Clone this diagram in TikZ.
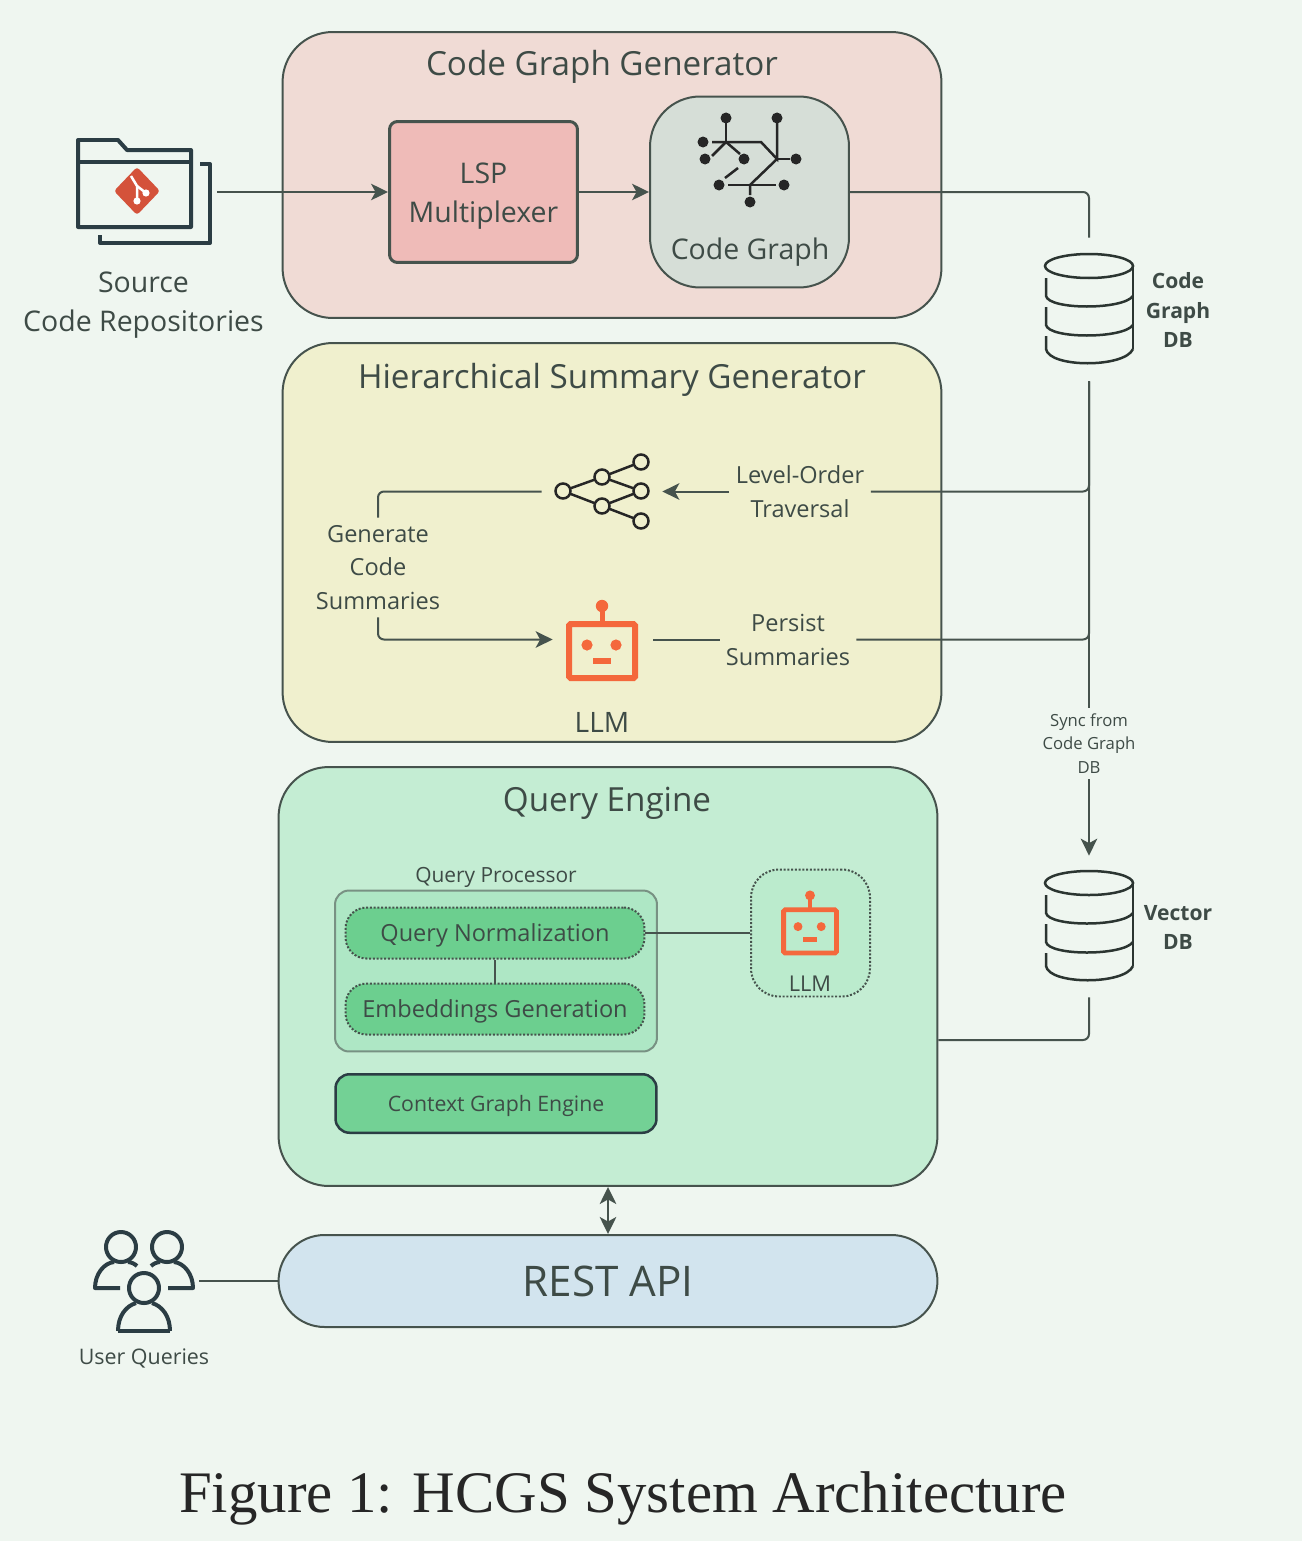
\documentclass[tikz,border=0pt]{standalone}
\usepackage{fontspec}
\setmainfont{Open Sans}
\newfontfamily\capfont{Liberation Serif}
\usetikzlibrary{arrows.meta}
\definecolor{bgcol}{HTML}{EFF6F0}
\definecolor{inkcol}{HTML}{3E4B46}
\definecolor{linecol}{HTML}{46534D}
\definecolor{iconcol}{HTML}{2B3D44}
\definecolor{botcol}{HTML}{F4683C}
\definecolor{gitcol}{HTML}{D4523A}
\definecolor{cggcol}{HTML}{F0DBD5}
\definecolor{lspcol}{HTML}{EFBBB8}
\definecolor{cgcol}{HTML}{D6DED7}
\definecolor{hsgcol}{HTML}{F0F0CE}
\definecolor{qecol}{HTML}{C4EDD3}
\definecolor{qpcol}{HTML}{AEE7C5}
\definecolor{stagecol}{HTML}{6CCF8F}
\definecolor{restcol}{HTML}{D2E4EE}
\tikzset{
  panel/.style={draw=linecol, line width=0.04cm, rounded corners=1cm, inner sep=0},
  titletext/.style={text=inkcol, font=\fontsize{18.9}{22}\selectfont},
  bodytext/.style={text=inkcol, align=center, font=\fontsize{16.2}{21.8}\selectfont},
  flowtext/.style={text=inkcol, align=center, inner sep=0, font=\fontsize{13.4}{19.2}\selectfont},
  dbtext/.style={text=inkcol, align=center, font=\bfseries\fontsize{12}{17}\selectfont},
  smalltext/.style={text=inkcol, align=center, font=\fontsize{9.5}{13.6}\selectfont},
  hole/.style={inner sep=0},
  wire/.style={draw=linecol, line width=0.04cm, rounded corners=0.12cm},
  icon/.style={draw=iconcol, line width=0.08cm, line join=round},
  glyph/.style={draw=black!85, line width=0.05cm},
  stage/.style={draw=linecol, densely dotted, line width=0.04cm, fill=stagecol, rounded corners=0.42cm,
    minimum width=5.98cm, minimum height=1.02cm, inner sep=0},
}
% robot head, centre of the face at (#1,#2), #3 is the scale
\newcommand{\boticon}[3]{
  \begin{scope}[shift={(#1,#2)}, scale=#3]
    \draw [botcol, line width=#3*0.12cm, rounded corners=0.03cm] (-33,-24) rectangle (33,30);
    \draw [botcol, line width=#3*0.1cm] (0,-24) -- (0,-38);
    \fill [botcol] (0,-42) circle [radius=6.2];
    \fill [botcol] (-15,-3) circle [radius=5.6];
    \fill [botcol] (14,-3) circle [radius=5.6];
    \fill [botcol] (-9,10) rectangle (9,16);
  \end{scope}
}
% database drum, top of the drum at (#1,#2)
\newcommand{\dbicon}[2]{
  \begin{scope}[shift={(#1,#2)}, draw=inkcol!70!black, line width=0.05cm]
    \draw (0,12) ellipse [x radius=44, y radius=12];
    \draw (44,12) -- (44,95);
    \draw (-43,24) -- (-43,42) .. controls (-40,56) and (34,56) .. (44,42);
    \draw (-43,53) -- (-43,71) .. controls (-40,85) and (34,85) .. (44,71);
    \draw (-43,82) -- (-43,95) .. controls (-40,114) and (36,114) .. (44,95);
  \end{scope}
}
\begin{document}
\begin{tikzpicture}[x=0.02cm, y=-0.02cm, >={Stealth[length=0.34cm,width=0.33cm,inset=0.09cm]}]
  \path [fill=bgcol, use as bounding box] (0,0) rectangle (1302,1541);

  % the three big panels and the api
  \node (cgg) at (612,175) [panel, fill=cggcol, minimum width=13.18cm, minimum height=5.72cm] {};
  \node (hsg) at (612,542.5) [panel, fill=hsgcol, minimum width=13.18cm, minimum height=7.98cm] {};
  \node (qe) at (608,976.5) [panel, fill=qecol, minimum width=13.18cm, minimum height=8.38cm] {};
  \node (rest) at (608,1281) [panel, fill=restcol, minimum width=13.18cm, minimum height=1.84cm, rounded corners=0.92cm,
    text=inkcol, font=\fontsize{24}{26}\selectfont] {REST API};
  \node (cggtitle) at (602,66.5) [titletext] {Code Graph Generator};
  \node (hsgtitle) at (612,379.5) [titletext] {Hierarchical Summary Generator};
  \node (qetitle) at (607,803) [titletext] {Query Engine};

  % code graph generator
  \node (lsp) at (483.5,192) [draw=linecol, line width=0.06cm, fill=lspcol, rounded corners=0.16cm, minimum width=3.76cm,
    minimum height=2.82cm, inner sep=0] {};
  \node (lsplabel) at (483.5,196) [bodytext] {LSP\\Multiplexer};
  \node (cg) at (749.5,192) [panel, fill=cgcol, minimum width=3.98cm, minimum height=3.82cm] {};
  \node (cglabel) at (750,252.5) [bodytext] {Code Graph};
  \draw [glyph] (726,118) -- (726,142);
  \draw [glyph] (712,142) -- (761,142) -- (777,159) -- (777,118);
  \draw [glyph] (777,159) -- (790,159);
  \draw [glyph] (712,156) -- (726,142) -- (740,154);
  \draw [glyph] (738,168) -- (725,178);
  \draw [glyph] (728,185) -- (776,185);
  \draw [glyph] (777,159) -- (750,185) -- (750,195);
  \fill [black!85] (726,118) circle [radius=5.5];
  \fill [black!85] (777,118) circle [radius=5.5];
  \fill [black!85] (703,142) circle [radius=5.5];
  \fill [black!85] (705,159) circle [radius=5.5];
  \fill [black!85] (744,159) circle [radius=5.5];
  \fill [black!85] (796,159) circle [radius=5.5];
  \fill [black!85] (719,185) circle [radius=5.5];
  \fill [black!85] (784,185) circle [radius=5.5];
  \fill [black!85] (750,202) circle [radius=5.5];

  % source repositories
  \draw [icon] (78,227) -- (78,140) -- (118,140) -- (127,150) -- (191,150) -- (191,227) -- cycle;
  \draw [icon] (78,162) -- (191,162);
  \draw [icon] (200,164) -- (210,164) -- (210,243) -- (100,243) -- (100,235);
  \fill [gitcol, rounded corners=0.06cm] (137,167) -- (160,191) -- (137,215) -- (114,191) -- cycle;
  \draw [white, line width=0.05cm] (131,176) -- (137,186) -- (137,201);
  \draw [white, line width=0.05cm] (137,186) -- (146,193);
  \fill [white] (137,201) circle [radius=3.6];
  \fill [white] (146,193) circle [radius=3.6];
  \node (repolabel) at (143.5,305) [bodytext] {Source\\Code Repositories};
  \coordinate (repo) at (217,192);

  % databases
  \node (codedb) at (1089,309.5) [hole, minimum width=1.8cm, minimum height=2.86cm] {};
  \dbicon{1089}{254}
  \node (codedblabel) at (1178,310) [dbtext] {Code\\Graph\\DB};
  \node (vecdb) at (1089,926.5) [hole, minimum width=1.8cm, minimum height=2.82cm] {};
  \dbicon{1089}{871}
  \node (vecdblabel) at (1178,927.5) [dbtext] {Vector\\DB};

  % hierarchical summary generator
  \node (tree) at (602,491.5) [hole, minimum width=2.4cm, minimum height=1.4cm] {};
  \draw [glyph] (563,491) -- (602,477) -- (641,462);
  \draw [glyph] (563,491) -- (602,506) -- (641,521);
  \draw [glyph] (602,477) -- (641,491) -- (602,506);
  \draw [glyph, fill=hsgcol] (563,491) circle [radius=7.5];
  \draw [glyph, fill=hsgcol] (602,477) circle [radius=7.5];
  \draw [glyph, fill=hsgcol] (602,506) circle [radius=7.5];
  \draw [glyph, fill=hsgcol] (641,462) circle [radius=7.5];
  \draw [glyph, fill=hsgcol] (641,491) circle [radius=7.5];
  \draw [glyph, fill=hsgcol] (641,521) circle [radius=7.5];
  \node (traversal) at (800,491.5) [flowtext, minimum width=2.82cm] {Level-Order\\Traversal};
  \node (gensum) at (378,567.5) [flowtext, minimum height=1.98cm] {Generate\\Code\\Summaries};
  \node (llm) at (603,639.5) [hole, minimum width=2cm, minimum height=1.4cm] {};
  \boticon{602}{648}{1}
  \node (llmlabel) at (602,722.5) [text=inkcol, font=\fontsize{16}{18}\selectfont] {LLM};
  \node (persist) at (788,640) [flowtext, minimum width=2.72cm] {Persist\\Summaries};

  % query engine
  \node (qplabel) at (496,877) [text=inkcol, font=\fontsize{11.9}{15}\selectfont] {Query Processor};
  \node (qp) at (496,971) [draw=linecol!60!qecol, line width=0.04cm, fill=qpcol, rounded corners=0.28cm, minimum width=6.44cm,
    minimum height=3.22cm] {};
  \node (qnorm) at (495,933) [stage] {};
  \node (qnormlabel) at (495,935.5) [text=inkcol, font=\fontsize{13.4}{17}\selectfont] {Query Normalization};
  \node (embed) at (495,1009) [stage] {};
  \node (embedlabel) at (495,1011.5) [text=inkcol, font=\fontsize{13.4}{17}\selectfont] {Embeddings Generation};
  \node (ctxgraph) at (496,1103.5) [draw=iconcol, line width=0.05cm, fill=stagecol!95!white, rounded corners=0.28cm, minimum width=6.42cm,
    minimum height=1.17cm, inner sep=0] {};
  \node (ctxlabel) at (496,1106) [text=inkcol, font=\fontsize{12.1}{15}\selectfont] {Context Graph Engine};
  \node (llmbox) at (810.5,933) [draw=linecol, densely dotted, line width=0.04cm, fill=qpcol!40!qecol, rounded corners=0.56cm,
    minimum width=2.38cm, minimum height=2.54cm] {};
  \boticon{810}{929}{0.8}
  \node (llmboxlabel) at (810,983.5) [text=inkcol, font=\fontsize{12.4}{15}\selectfont] {LLM};

  % users
  \draw [icon] (121,1247) circle [radius=15];
  \draw [icon] (167,1247) circle [radius=15];
  \draw [icon] (144,1288) circle [radius=15];
  \draw [icon] (120,1288) -- (95,1288) .. controls (95,1274) and (104,1263) .. (114,1262);
  \draw [icon] (128,1262) .. controls (131,1262) and (135,1264) .. (137,1266);
  \draw [icon] (168,1288) -- (193,1288) .. controls (193,1274) and (184,1263) .. (174,1262);
  \draw [icon] (160,1262) .. controls (157,1262) and (153,1264) .. (151,1266);
  \draw [icon] (118,1331) .. controls (118,1316) and (126,1306) .. (136,1303);
  \draw [icon] (170,1331) .. controls (170,1316) and (162,1306) .. (152,1303);
  \draw [icon] (118,1331) -- (170,1331);
  \node (userslabel) at (144,1358) [text=inkcol, font=\fontsize{12.2}{15}\selectfont] {User Queries};
  \coordinate (users) at (199,1281);

  % connectors
  \draw [wire, ->] (repo) -- (lsp.west |- repo);
  \draw [wire, ->] (lsp.east |- repo) -- (cg.west);
  \draw [wire] (cg.east) -| (codedb.north);
  \draw [wire, ->] (codedb.south) -- (vecdb.north);
  \node (sync) at (1089,743.5) [smalltext, fill=bgcol, inner sep=0, minimum height=1.42cm, minimum width=2cm] {Sync from\\Code Graph\\DB};
  \draw [wire] (codedb.south) |- (traversal.east);
  \draw [wire, ->] (traversal.west) -- (tree.east);
  \draw [wire] (tree.west) -| (gensum.north);
  \draw [wire, ->] (gensum.south) |- (llm.west);
  \draw [wire] (llm.east) -- (llm.east -| persist.west);
  \draw [wire] (llm.east -| persist.east) -| (codedb.south);
  \draw [wire] (qnorm.east) -- (llmbox.west);
  \draw [wire] (qnorm.south) -- (embed.north);
  \draw [wire] (vecdb.south) |- (qe.east |- 0,1040);
  \draw [wire, line width=0.05cm, <->] (qe.south) -- (rest.north);
  \draw [wire] (users) -- (rest.west);

  % caption
  \node (caption) at (623,1498) [text=black!85, font=\capfont\fontsize{33.5}{36}\selectfont] {Figure 1: HCGS System Architecture};
\end{tikzpicture}
\end{document}
